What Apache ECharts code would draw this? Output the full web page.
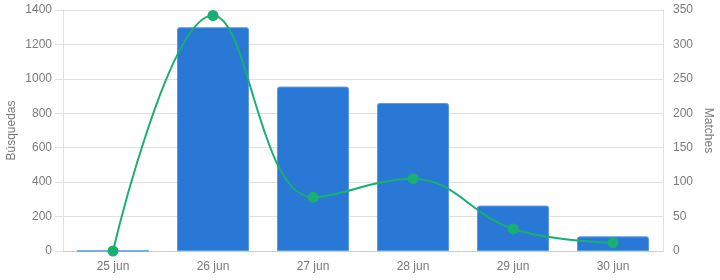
<!DOCTYPE html>
<html>
<head>
<meta charset="utf-8">
<script src="https://cdn.jsdelivr.net/npm/echarts@6/dist/echarts.min.js"></script>
<style>
  html, body { margin: 0; padding: 0; background: #fff; }
  #chart { width: 720px; height: 280px; }
</style>
</head>
<body>
<div id="chart"></div>
<script>
// datos
var days = ['25 jun', '26 jun', '27 jun', '28 jun', '29 jun', '30 jun'];
var busquedas = [1, 1300, 955, 860, 264, 85];
var matches = [0, 342, 78, 105, 32, 12];

var chart = echarts.init(document.getElementById('chart'));
var gridColor = '#e2e0dc';
var textColor = '#7a7a7a';

var option = {
    animation: false,
    textStyle: { fontFamily: 'Liberation Sans, Arial, sans-serif' },
    grid: { left: 63, right: 57, top: 10, bottom: 29, outerBoundsMode: 'none', containLabel: false },
    xAxis: {
        type: 'category',
        data: days,
        axisLine: { lineStyle: { color: '#cfcdc9' } },
        axisTick: { show: false },
        axisLabel: { color: textColor, fontSize: 12, margin: 10 },
        splitLine: { show: false }
    },
    yAxis: [
        {
            type: 'value',
            name: 'Búsquedas',
            nameLocation: 'middle',
            nameGap: 45,
            nameRotate: 90,
            nameMoveOverlap: false,
            nameTextStyle: { color: textColor, fontSize: 12 },
            min: 0, max: 1400, interval: 200,
            axisLine: { show: true, lineStyle: { color: gridColor } },
            axisTick: { show: true, length: 8, lineStyle: { color: gridColor } },
            axisLabel: {
                color: textColor, fontSize: 12, margin: 11,
                formatter: function (v) { return String(v); }
            },
            splitLine: { lineStyle: { color: gridColor } }
        },
        {
            type: 'value',
            name: 'Matches',
            nameLocation: 'middle',
            nameGap: 39,
            nameRotate: -90,
            nameMoveOverlap: false,
            nameTextStyle: { color: textColor, fontSize: 12 },
            min: 0, max: 350, interval: 50,
            axisLine: { show: true, lineStyle: { color: gridColor } },
            axisTick: { show: false },
            axisLabel: {
                color: textColor, fontSize: 12, margin: 10,
                formatter: function (v) { return String(v); }
            },
            splitLine: { show: false }
        }
    ],
    series: [
        {
            name: 'Búsquedas',
            type: 'bar',
            yAxisIndex: 0,
            data: busquedas,
            barCategoryGap: '28%',
            itemStyle: {
                color: '#2a78d5',
                borderColor: '#5c9be3',
                borderWidth: 1,
                borderRadius: [2, 2, 0, 0]
            }
        },
        {
            name: 'Matches',
            type: 'line',
            yAxisIndex: 1,
            data: matches,
            smooth: 0.4,
            symbol: 'circle',
            symbolSize: 11,
            lineStyle: { color: '#1aaf72', width: 2 },
            itemStyle: { color: '#1aaf72' },
            z: 5
        }
    ]
};
chart.setOption(option);
</script>
</body>
</html>
